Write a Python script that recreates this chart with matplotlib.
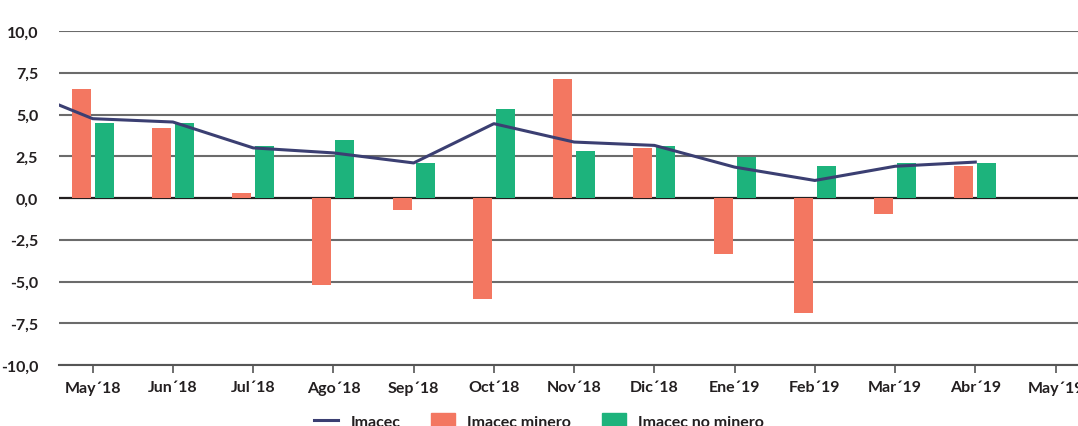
import numpy as np
import matplotlib.pyplot as plt
from matplotlib.patches import Patch
from matplotlib.lines import Line2D

plt.rcParams['font.family'] = ['Lato', 'DejaVu Sans']

# meses (el primero queda fuera del eje, solo para el tramo inicial de la línea)
meses = ['May´18', 'Jun´18', 'Jul´18', 'Ago´18', 'Sep´18', 'Oct´18', 'Nov´18',
         'Dic´18', 'Ene´19', 'Feb´19', 'Mar´19', 'Abr´19', 'May´19']
imacec_prev = 6.7   # Abr'18
imacec = [4.75, 4.55, 3.0, 2.7, 2.1, 4.45, 3.35, 3.15, 1.85, 1.05, 1.9, 2.15]
minero = [6.5, 4.2, 0.3, -5.2, -0.7, -6.05, 7.15, 3.0, -3.35, -6.9, -0.95, 1.9]
no_minero = [4.5, 4.5, 3.1, 3.45, 2.1, 5.35, 2.8, 3.1, 2.45, 1.9, 2.1, 2.1]
yticks = [10, 7.5, 5, 2.5, 0, -2.5, -5, -7.5, -10]

c_line = '#3b3f72'
c_red = '#f37761'
c_green = '#1db37c'
c_text = '#231f20'
fs = 11.5

fig = plt.figure(figsize=(10.78, 4.27), dpi=100)
ax = fig.add_axes([59/1078, 1-366/427, 1 - 59/1078, (366-32)/427])

n = len(imacec)
x = np.arange(n)
w = 0.237
off = 0.143

ax.bar(x - off, minero, width=w, color=c_red, zorder=3)
ax.bar(x + off, no_minero, width=w, color=c_green, zorder=3)
ax.plot(np.r_[-1, x], [imacec_prev] + imacec, color=c_line, lw=2.2, zorder=4)

ax.set_xlim(-0.42, 12.28)
ax.set_ylim(-10, 10)

for v in yticks:
    if v == 0:
        ax.axhline(v, color='#231f20', lw=1.6, zorder=2)
    else:
        ax.axhline(v, color='#6b6b6b', lw=1.5, zorder=1)

ax.set_yticks(yticks)
ax.set_yticklabels([f'{v:.1f}'.replace('.', ',') for v in yticks])
ax.set_xticks(np.arange(len(meses)))
ax.set_xticklabels(meses)

for s in ['top', 'right', 'left']:
    ax.spines[s].set_visible(False)
ax.spines['bottom'].set_color('#555555')
ax.spines['bottom'].set_linewidth(1.5)

ax.tick_params(axis='y', length=0, pad=15, labelsize=fs, labelcolor=c_text)
ax.tick_params(axis='x', length=6, width=1.2, color='#555555', pad=5,
               labelsize=fs, labelcolor=c_text)
for t in ax.get_xticklabels() + ax.get_yticklabels():
    t.set_fontweight('bold')

handles = [Line2D([0], [0], color=c_line, lw=2.2),
           Patch(color=c_red), Patch(color=c_green)]
fig.legend(handles, ['Imacec', 'Imacec minero', 'Imacec no minero'],
           loc='center', bbox_to_anchor=(0.5, 1 - 422/427), ncol=3,
           frameon=False, handlelength=1.5, handleheight=1.0,
           handletextpad=0.8, columnspacing=1.9,
           prop={'weight': 'bold', 'size': fs})
for t in fig.legends[0].get_texts():
    t.set_color(c_text)

fig.savefig('out.png', dpi=100)
